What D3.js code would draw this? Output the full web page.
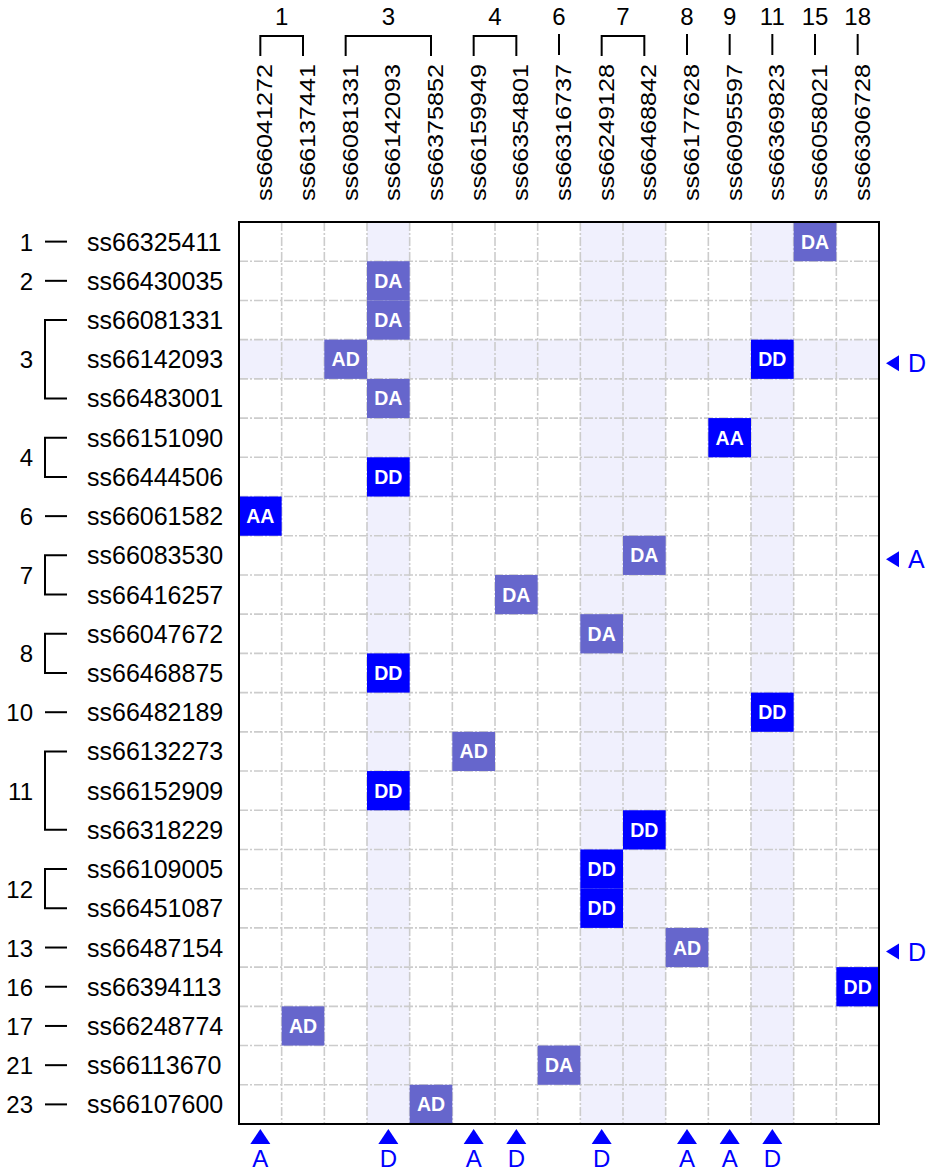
<!DOCTYPE html>
<html>
<head>
<meta charset="utf-8">
<script src="https://cdn.jsdelivr.net/npm/d3@7"></script>
<style>
  html, body { margin: 0; padding: 0; background: #fff; }
  svg { display: block; font-family: "Liberation Sans", Arial, sans-serif; }
</style>
</head>
<body>
<svg id="chart" width="933" height="1174"></svg>
<script>
// ---------------- data ----------------
const columns = ["ss66041272","ss66137441","ss66081331","ss66142093","ss66375852",
  "ss66159949","ss66354801","ss66316737","ss66249128","ss66468842",
  "ss66177628","ss66095597","ss66369823","ss66058021","ss66306728"];
const colGroupLabels = ["1","3","4","6","7","8","9","11","15","18"];
const colGroupSizes  = [2,3,2,1,2,1,1,1,1,1];

const rows = ["ss66325411","ss66430035","ss66081331","ss66142093","ss66483001",
  "ss66151090","ss66444506","ss66061582","ss66083530","ss66416257",
  "ss66047672","ss66468875","ss66482189","ss66132273","ss66152909",
  "ss66318229","ss66109005","ss66451087","ss66487154","ss66394113",
  "ss66248774","ss66113670","ss66107600"];
const rowGroupLabels = ["1","2","3","4","6","7","8","10","11","12","13","16","17","21","23"];
const rowGroupSizes  = [1,1,3,2,1,2,2,1,3,2,1,1,1,1,1];

// [row, column, genotype]
const cells = [
  ["ss66325411","ss66058021","DA"],
  ["ss66430035","ss66142093","DA"],
  ["ss66081331","ss66142093","DA"],
  ["ss66142093","ss66081331","AD"],
  ["ss66142093","ss66369823","DD"],
  ["ss66483001","ss66142093","DA"],
  ["ss66151090","ss66095597","AA"],
  ["ss66444506","ss66142093","DD"],
  ["ss66061582","ss66041272","AA"],
  ["ss66083530","ss66468842","DA"],
  ["ss66416257","ss66354801","DA"],
  ["ss66047672","ss66249128","DA"],
  ["ss66468875","ss66142093","DD"],
  ["ss66482189","ss66369823","DD"],
  ["ss66132273","ss66159949","AD"],
  ["ss66152909","ss66142093","DD"],
  ["ss66318229","ss66468842","DD"],
  ["ss66109005","ss66249128","DD"],
  ["ss66451087","ss66249128","DD"],
  ["ss66487154","ss66177628","AD"],
  ["ss66394113","ss66306728","DD"],
  ["ss66248774","ss66137441","AD"],
  ["ss66113670","ss66316737","DA"],
  ["ss66107600","ss66375852","AD"]
];
const genotypes = ["AA","DD","AD","DA"];

const highlightCols = ["ss66142093","ss66249128","ss66468842","ss66369823"];
const highlightRows = ["ss66142093"];

const bottomMarkerCols   = ["ss66041272","ss66142093","ss66159949","ss66354801","ss66249128","ss66177628","ss66095597","ss66369823"];
const bottomMarkerLabels = ["A","D","A","D","D","A","A","D"];
const rightMarkerRows    = ["ss66142093","ss66083530","ss66487154"];
const rightMarkerLabels  = ["D","A","D"];

// ---------------- layout ----------------
const svg = d3.select("#chart");
const x = d3.scaleBand().domain(columns).range([239, 879]);
const y = d3.scaleBand().domain(rows).range([222, 1124]);
const color = d3.scaleOrdinal().domain(genotypes).range(["#0000ff","#0000ff","#6666cc","#6666cc"]);
const blue = "#0000ff";

// highlight stripes
svg.append("g").selectAll("rect.hc").data(highlightCols).join("rect")
  .attr("x", d => x(d)).attr("y", y.range()[0])
  .attr("width", x.bandwidth()).attr("height", y.range()[1] - y.range()[0])
  .attr("fill", "#f0f0fd");
svg.append("g").selectAll("rect.hr").data(highlightRows).join("rect")
  .attr("x", x.range()[0]).attr("y", d => y(d))
  .attr("width", x.range()[1] - x.range()[0]).attr("height", y.bandwidth())
  .attr("fill", "#f0f0fd");

// grid
const grid = svg.append("g").attr("stroke", "#cccccc").attr("stroke-width", 1.6)
  .attr("stroke-dasharray", "9,2,2,2");
grid.selectAll("line.v").data(columns.slice(1)).join("line")
  .attr("x1", d => x(d)).attr("x2", d => x(d))
  .attr("y1", y.range()[0]).attr("y2", y.range()[1]);
grid.selectAll("line.h").data(rows.slice(1)).join("line")
  .attr("y1", d => y(d)).attr("y2", d => y(d))
  .attr("x1", x.range()[0]).attr("x2", x.range()[1]);

// cells
const cg = svg.append("g").selectAll("g").data(cells).join("g")
  .attr("transform", d => `translate(${x(d[1])},${y(d[0])})`);
cg.append("rect").attr("width", x.bandwidth()).attr("height", y.bandwidth())
  .attr("fill", d => color(d[2]));
cg.append("text").attr("x", x.bandwidth() / 2).attr("y", y.bandwidth() / 2 + 7)
  .attr("text-anchor", "middle").attr("fill", "#fff")
  .attr("font-size", 19.5).attr("font-weight", "bold").text(d => d[2]);

// border
svg.append("rect").attr("x", x.range()[0]).attr("y", y.range()[0])
  .attr("width", x.range()[1] - x.range()[0]).attr("height", y.range()[1] - y.range()[0])
  .attr("fill", "none").attr("stroke", "#000").attr("stroke-width", 2);

// column labels (rotated)
svg.append("g").selectAll("text").data(columns).join("text")
  .attr("transform", d => `translate(${x(d) + x.bandwidth() / 2 + 12},201) rotate(-90)`)
  .attr("font-size", 22.5).attr("textLength", 137).attr("lengthAdjust", "spacingAndGlyphs")
  .attr("fill", "#000").text(d => d);

// column groups
let ci = 0;
const colGroups = colGroupLabels.map((lab, i) => {
  const members = columns.slice(ci, ci + colGroupSizes[i]);
  ci += colGroupSizes[i];
  return { lab, members };
});
const cgg = svg.append("g").attr("stroke", "#000").attr("stroke-width", 2).attr("fill", "none");
colGroups.forEach(g => {
  const cx = g.members.map(m => x(m) + x.bandwidth() / 2);
  const x0 = d3.min(cx), x1 = d3.max(cx);
  if (g.members.length > 1) {
    cgg.append("path").attr("d", `M${x0},56V36H${x1}V56`);
  } else {
    cgg.append("line").attr("x1", x0).attr("x2", x0).attr("y1", 34).attr("y2", 55);
  }
  svg.append("text").attr("x", (x0 + x1) / 2).attr("y", 24.5)
    .attr("text-anchor", "middle").attr("font-size", 24).attr("fill", "#000").text(g.lab);
});

// row labels
svg.append("g").selectAll("text").data(rows).join("text")
  .attr("x", 87).attr("y", d => y(d) + y.bandwidth() / 2 + 9)
  .attr("font-size", 25).attr("fill", "#000").text(d => d);

// row groups
let ri = 0;
const rowGroups = rowGroupLabels.map((lab, i) => {
  const members = rows.slice(ri, ri + rowGroupSizes[i]);
  ri += rowGroupSizes[i];
  return { lab, members };
});
const rgg = svg.append("g").attr("stroke", "#000").attr("stroke-width", 2).attr("fill", "none");
rowGroups.forEach(g => {
  const cy = g.members.map(m => y(m) + y.bandwidth() / 2);
  const y0 = d3.min(cy), y1 = d3.max(cy);
  if (g.members.length > 1) {
    rgg.append("path").attr("d", `M67,${y0}H45V${y1}H67`);
  } else {
    rgg.append("line").attr("x1", 45).attr("x2", 67).attr("y1", y0).attr("y2", y0);
  }
  svg.append("text").attr("x", 33).attr("y", (y0 + y1) / 2 + 9)
    .attr("text-anchor", "end").attr("font-size", 24).attr("fill", "#000").text(g.lab);
});

// bottom markers
const bm = svg.append("g").selectAll("g").data(bottomMarkerCols).join("g")
  .attr("transform", d => `translate(${x(d) + x.bandwidth() / 2},0)`);
bm.append("path").attr("d", "M0,1129L10,1144L-10,1144Z").attr("fill", blue);
bm.append("text").attr("y", 1167).attr("text-anchor", "middle")
  .attr("font-size", 24).attr("fill", blue).text((d, i) => bottomMarkerLabels[i]);

// right markers
const rm = svg.append("g").selectAll("g").data(rightMarkerRows).join("g")
  .attr("transform", d => `translate(0,${y(d) + y.bandwidth() / 2 + 4})`);
rm.append("path").attr("d", "M886,0L899,-8L899,8Z").attr("fill", blue);
rm.append("text").attr("x", 908).attr("y", 9)
  .attr("font-size", 25).attr("fill", blue).text((d, i) => rightMarkerLabels[i]);
</script>
</body>
</html>
